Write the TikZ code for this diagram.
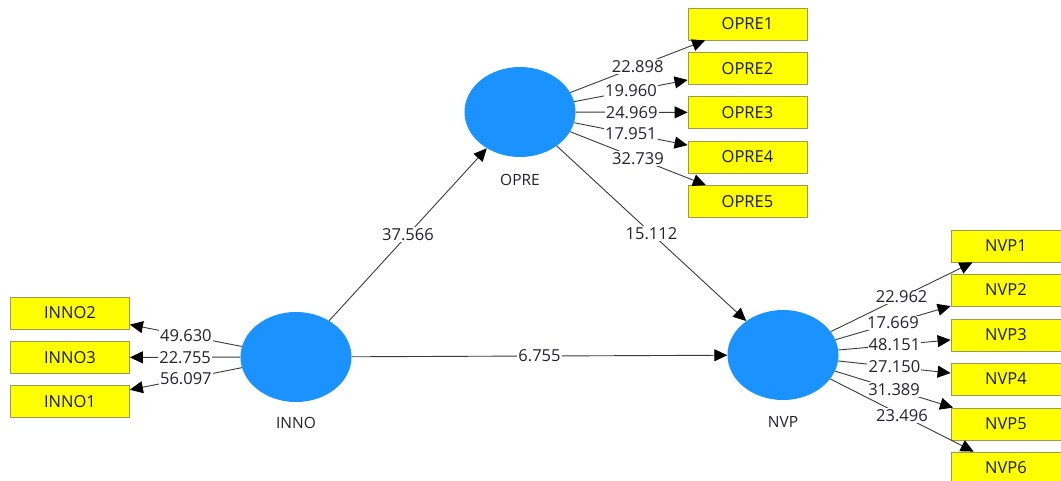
\documentclass[tikz,border=0pt]{standalone}
\usepackage{fontspec}
\setmainfont{Open Sans}
\usetikzlibrary{arrows.meta,shapes.geometric}
\definecolor{latentblue}{HTML}{1A92FF}
\definecolor{itemyellow}{HTML}{FFFF00}
\definecolor{itemedge}{HTML}{9A9A50}
\definecolor{linegray}{HTML}{3A3A3A}
\definecolor{txtgray}{HTML}{23232E}
\tikzset{
  latent/.style={ellipse,fill=latentblue,minimum width=111pt,minimum height=90pt,inner sep=0pt},
  latname/.style={font=\fontsize{15.5}{18}\selectfont,text=txtgray,inner sep=0pt},
  item/.style={rectangle,draw=itemedge,line width=0.8pt,fill=itemyellow,minimum width=119pt,minimum height=32pt,inner sep=0pt,font=\fontsize{16.5}{19}\selectfont,text=black!90},
  path/.style={draw=linegray,line width=0.9pt,-{Triangle[length=13pt,width=12pt,color=black]}},
  weight/.style={fill=white,inner sep=1.2pt,font=\fontsize{16.5}{19}\selectfont,text=txtgray}
}
\begin{document}
\begin{tikzpicture}[x=1pt,y=-1pt]
\useasboundingbox (0,0) rectangle (1061,480);
\fill[white] (0,0) rectangle (1061,480);

% latent constructs
\node[latent] (inno) at (296,357) {};
\node[latent] (opre) at (520,112) {};
\node[latent] (nvp)  at (783,355) {};
\node[latname] (innoL) at (296,423) {INNO};
\node[latname] (opreL) at (520,180) {OPRE};
\node[latname] (nvpL)  at (783,422) {NVP};

% indicators of INNO
\node[item] (inno2) at (70,313) {INNO2};
\node[item] (inno3) at (70,357.5) {INNO3};
\node[item] (inno1) at (70,401.5) {INNO1};

% indicators of OPRE
\node[item] (opre1) at (747.5,24) {OPRE1};
\node[item] (opre2) at (747.5,68.5) {OPRE2};
\node[item] (opre3) at (747.5,112.5) {OPRE3};
\node[item] (opre4) at (747.5,157) {OPRE4};
\node[item] (opre5) at (747.5,201.5) {OPRE5};

% indicators of NVP
\node[item,minimum width=110pt] (nvp1) at (1006,246) {NVP1};
\node[item,minimum width=110pt] (nvp2) at (1006,290) {NVP2};
\node[item,minimum width=110pt] (nvp3) at (1006,335) {NVP3};
\node[item,minimum width=110pt] (nvp4) at (1006,379) {NVP4};
\node[item,minimum width=110pt] (nvp5) at (1006,424) {NVP5};
\node[item,minimum width=110pt] (nvp6) at (1006,468) {NVP6};

% structural paths
\draw[path] (inno) -- node[weight] {37.566} (opre);
\draw[path] (opre) -- node[weight] {15.112} (nvp);
\draw[path] (inno) -- node[weight] {6.755} (nvp);

% outer loadings
\draw[path] (inno) -- node[weight] {49.630} (inno2);
\draw[path] (inno) -- node[weight] {22.755} (inno3);
\draw[path] (inno) -- node[weight] {56.097} (inno1);

\draw[path] (opre) -- node[weight] {22.898} (opre1);
\draw[path] (opre) -- node[weight] {19.960} (opre2);
\draw[path] (opre) -- node[weight] {24.969} (opre3);
\draw[path] (opre) -- node[weight] {17.951} (opre4);
\draw[path] (opre) -- node[weight] {32.739} (opre5);

\draw[path] (nvp) -- node[weight] {22.962} (nvp1);
\draw[path] (nvp) -- node[weight] {17.669} (nvp2);
\draw[path] (nvp) -- node[weight] {48.151} (nvp3);
\draw[path] (nvp) -- node[weight] {27.150} (nvp4);
\draw[path] (nvp) -- node[weight] {31.389} (nvp5);
\draw[path] (nvp) -- node[weight] {23.496} (nvp6);
\end{tikzpicture}
\end{document}
